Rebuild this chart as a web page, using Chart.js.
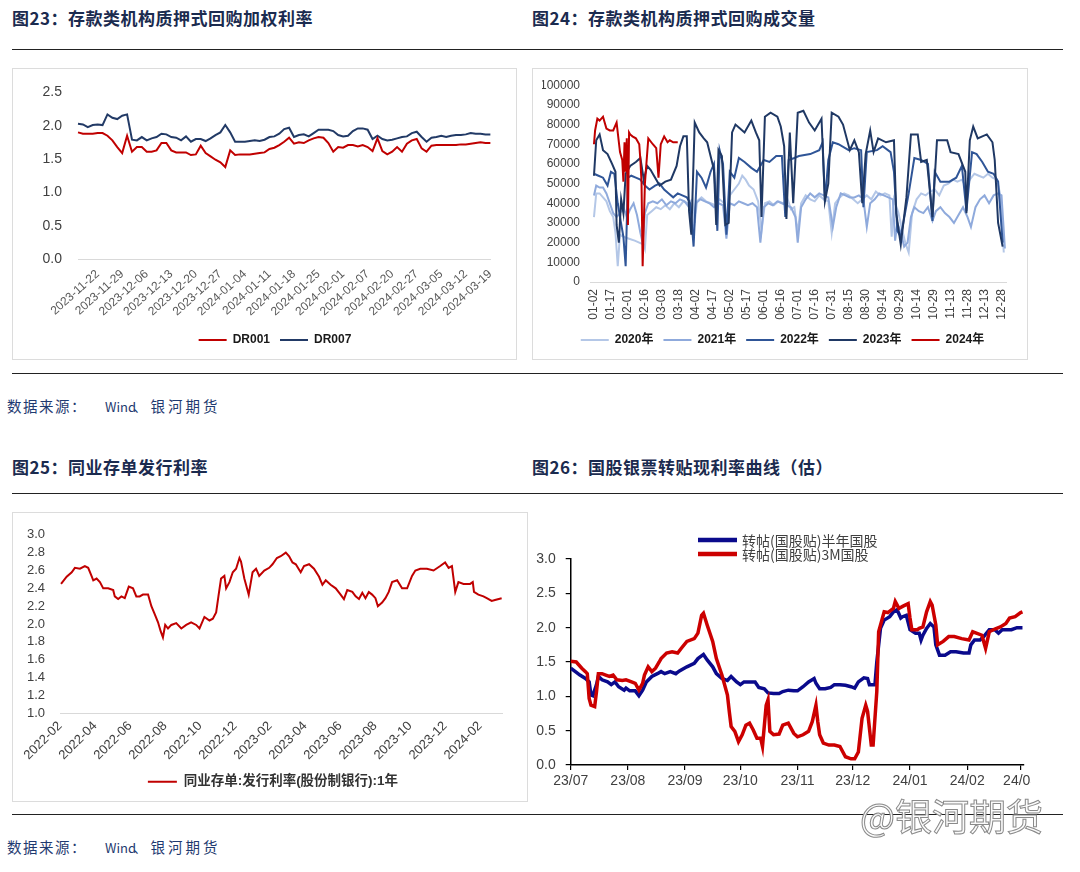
<!DOCTYPE html>
<html>
<head>
<meta charset="utf-8">
<script src="https://cdn.jsdelivr.net/npm/chart.js@4.4.1/dist/chart.umd.min.js"></script>
<style>
  html, body { margin: 0; padding: 0; background: #ffffff; }
  body { position: relative; width: 1080px; height: 872px; overflow: hidden; font-family: "Noto Sans CJK SC", sans-serif; }
  .t { position: absolute; font-size: 17px; font-weight: bold; color: #1b2b4f; letter-spacing: 0.5px; white-space: nowrap; line-height: 1; }
  .rule { position: absolute; left: 12px; width: 1051px; height: 0; border-top: 1.5px solid #222; }
  .box { position: absolute; border: 1px solid #dcdcdc; box-sizing: border-box; }
  .src { position: absolute; font-size: 14.5px; color: #1f3a70; white-space: nowrap; line-height: 1; }
  canvas { position: absolute; display: block; }
  .wm { position: absolute; left: 860px; top: 797px; font-size: 37px; line-height: 1; color: rgba(250,250,250,0.92); -webkit-text-stroke: 1px #8a8a8a; white-space: nowrap; }
</style>
</head>
<body>
<div class="t" style="left:12px;top:9px">图23：存款类机构质押式回购加权利率</div>
<div class="t" style="left:532px;top:9px">图24：存款类机构质押式回购成交量</div>
<div class="rule" style="top:49px"></div>

<div class="box" style="left:12px;top:68px;width:505px;height:292px"></div>
<canvas id="c1" width="466" height="292" style="left:42px;top:68px"></canvas>
<div class="box" style="left:532px;top:68px;width:496px;height:292px"></div>
<canvas id="c2" width="481" height="292" style="left:542px;top:68px"></canvas>

<div class="rule" style="top:373px"></div>
<div class="src" style="left:7px;top:399px;letter-spacing:1.5px">数据来源：</div>
<div class="src" style="left:105px;top:400px;font-size:13px">Wind</div>
<div class="src" style="left:133px;top:399px;letter-spacing:3px">、银河期货</div>

<div class="t" style="left:12px;top:458px">图25：同业存单发行利率</div>
<div class="t" style="left:532px;top:458px">图26：国股银票转贴现利率曲线（估）</div>
<div class="rule" style="top:493px"></div>

<div class="box" style="left:12px;top:512px;width:516px;height:290px"></div>
<canvas id="c3" width="506" height="290" style="left:20px;top:512px"></canvas>
<div style="position:absolute;left:530px;top:515px;width:501px;height:285px;overflow:hidden">
  <canvas id="c4" width="550" height="285" style="left:0;top:0"></canvas>
</div>

<div class="rule" style="top:814px"></div>
<div class="wm">@银河期货</div>
<div class="src" style="left:7px;top:840px;letter-spacing:1.5px">数据来源：</div>
<div class="src" style="left:105px;top:841px;font-size:13px">Wind</div>
<div class="src" style="left:133px;top:840px;letter-spacing:3px">、银河期货</div>

<script>
// ---------------- 图23 data ----------------
const drDates = ['2023-11-16','2023-11-17','2023-11-20','2023-11-21','2023-11-22','2023-11-23','2023-11-24','2023-11-27','2023-11-28','2023-11-29','2023-11-30',
 '2023-12-01','2023-12-04','2023-12-05','2023-12-06','2023-12-07','2023-12-08','2023-12-11','2023-12-12','2023-12-13','2023-12-14','2023-12-15','2023-12-18','2023-12-19','2023-12-20','2023-12-21','2023-12-22','2023-12-25','2023-12-26','2023-12-27','2023-12-28','2023-12-29',
 '2024-01-02','2024-01-03','2024-01-04','2024-01-05','2024-01-08','2024-01-09','2024-01-10','2024-01-11','2024-01-12','2024-01-15','2024-01-16','2024-01-17','2024-01-18','2024-01-19','2024-01-22','2024-01-23','2024-01-24','2024-01-25','2024-01-26','2024-01-29','2024-01-30','2024-01-31',
 '2024-02-01','2024-02-02','2024-02-04','2024-02-05','2024-02-06','2024-02-07','2024-02-08','2024-02-09','2024-02-18','2024-02-19','2024-02-20','2024-02-21','2024-02-22','2024-02-23','2024-02-26','2024-02-27','2024-02-28','2024-02-29',
 '2024-03-01','2024-03-04','2024-03-05','2024-03-06','2024-03-07','2024-03-08','2024-03-11','2024-03-12','2024-03-13','2024-03-14','2024-03-15','2024-03-18','2024-03-19'];
const dr001 = [1.90,1.88,1.88,1.88,1.89, 1.89,1.85,1.78,1.68,1.59, 1.85,1.61,1.68,1.68,1.61, 1.61,1.63,1.74,1.74,1.63,
 1.60,1.60,1.60,1.56,1.57, 1.70,1.59,1.54,1.49,1.45, 1.38,1.63,1.56,1.57,1.57, 1.57,1.58,1.59,1.60,1.65,
 1.67,1.71,1.76,1.82,1.73, 1.75,1.74,1.78,1.81,1.83, 1.82,1.74,1.61,1.68,1.67, 1.71,1.71,1.69,1.71,1.68,
 1.62,1.81,1.62,1.57,1.61, 1.68,1.61,1.73,1.78,1.80, 1.66,1.61,1.70,1.71,1.71, 1.71,1.71,1.71,1.72,1.72,
 1.73,1.74,1.75,1.74,1.74];
const dr007 = [2.03,2.02,1.98,2.01,2.02, 2.01,2.17,2.12,2.10,2.15, 2.17,1.79,1.78,1.83,1.78, 1.81,1.83,1.88,1.87,1.83,
 1.82,1.78,1.84,1.76,1.80, 1.80,1.77,1.81,1.86,1.90, 2.01,1.90,1.76,1.76,1.76, 1.77,1.78,1.77,1.79,1.83,
 1.84,1.88,1.95,1.97,1.83, 1.86,1.87,1.84,1.89,1.94, 1.94,1.94,1.92,1.86,1.84, 1.85,1.92,1.96,1.96,1.94,
 1.80,1.85,1.80,1.78,1.79, 1.81,1.83,1.84,1.89,1.91, 1.83,1.76,1.82,1.83,1.85, 1.83,1.85,1.86,1.86,1.87,
 1.89,1.88,1.88,1.87,1.87];

// ---------------- 图24 data (day of year; values in thousands) ----------------
const tickDays2 = [1,16,31,46,61,76,91,106,121,136,151,166,181,196,211,226,241,256,271,286,301,316,331,346,361];
const tickLabels2 = ['01-02','01-17','02-01','02-16','03-03','03-18','04-02','04-17','05-02','05-17','06-01','06-16','07-01','07-16','07-31','08-15','08-30','09-14','09-29','10-14','10-29','11-13','11-28','12-13','12-28'];
const d2020 = [1,3,6,9,12,15,18,20,22,24,27,32,37,41,45,46,48,52,56,60,64,68,72,76,80,84,88,90,92,96,100,104,108,112,116,118,121,125,129,132,135,138,142,146,149,152,156,160,164,168,172,175,178,181,184,188,192,196,200,204,208,211,214,218,222,226,230,234,238,242,246,250,254,258,262,264,266,270,273,276,279,282,286,290,294,298,302,306,310,314,318,322,326,330,333,337,341,345,349,353,357,360,363];
const v2020 = [33,45,45,43,41,36,33,25,8,24,23,22,21,20,19,17,34,36,38,37,39,37,40,38,41,40,42,30,41,43,41,40,39,42,40,28,44,47,50,54,52,49,47,41,26,40,41,39,41,40,42,37,38,25,40,44,42,41,44,42,41,25,40,43,45,44,42,40,42,44,42,46,44,45,44,23,42,35,27,20,15,35,42,45,44,46,47,44,49,50,52,51,52,48,52,55,54,53,55,53,52,44,15];
const d2021 = [1,3,6,9,12,15,18,21,24,27,30,33,36,39,42,44,46,49,53,57,61,65,69,73,77,81,85,89,91,95,99,103,107,111,115,118,121,125,129,133,137,141,145,148,151,155,159,163,167,171,175,179,181,184,188,192,196,200,204,208,212,215,219,223,227,231,235,239,242,245,249,253,257,261,265,267,269,272,275,278,281,284,288,292,296,300,303,307,311,315,319,323,327,331,334,338,342,346,350,354,358,361,364];
const v2021 = [44,49,48,48,45,40,35,33,35,38,33,37,40,34,25,20,35,40,41,40,42,39,41,40,42,41,38,25,40,42,41,40,38,40,39,22,40,39,41,40,39,40,38,20,38,40,39,41,40,39,38,33,20,38,42,45,43,45,44,43,28,38,45,44,43,43,44,42,28,40,42,45,44,43,42,21,30,25,18,20,33,38,36,35,38,31,36,38,35,33,30,34,38,33,28,38,42,44,40,44,45,44,17];
const d2022 = [1,5,9,13,16,19,22,24,27,29,31,34,38,42,46,50,55,59,63,67,71,75,79,83,86,89,92,96,100,104,107,110,112,115,118,121,125,129,134,140,145,151,156,162,167,170,173,178,182,192,200,203,205,208,212,217,226,231,237,239,242,251,256,263,266,269,272,279,284,290,296,300,302,307,315,321,326,330,335,339,344,349,354,358,362];
const v2022 = [55,54,53,49,56,55,40,33,23,8,53,54,53,52,49,47,49,50,47,45,43,45,44,43,40,18,56,53,48,56,60,26,67,60,24,56,53,63,61,58,56,62,61,64,64,33,62,63,64,65,67,71,41,62,71,70,67,68,67,38,66,67,69,66,56,26,23,45,63,62,60,31,56,51,51,53,59,36,66,65,61,56,55,51,20];
const d2023 = [1,3,6,9,13,17,20,21,23,25,27,29,33,38,42,45,48,51,54,59,64,69,74,77,80,83,85,87,90,94,98,101,104,107,109,111,114,117,120,123,126,130,134,140,144,147,149,152,157,163,166,169,171,174,177,181,186,191,196,202,205,208,211,217,221,227,231,235,238,241,245,248,252,259,266,268,272,277,281,287,290,295,300,304,309,313,316,323,329,330,333,336,340,348,353,355,358,362];
const v2023 = [54,72,75,67,65,60,56,29,20,42,35,55,59,61,63,52,59,57,54,49,51,52,59,69,74,74,36,24,81,76,73,71,64,57,29,67,64,29,30,76,80,78,76,82,76,72,33,84,86,84,79,69,32,76,40,86,87,81,77,83,41,50,86,84,80,67,72,66,40,65,77,66,73,71,72,35,19,43,75,75,61,62,33,72,72,72,66,65,56,35,72,79,73,75,71,62,30,18];
const d2024 = [1,2,4,6,9,12,15,18,21,24,26,27,28,29,30,31,32,33,35,38,41,42,43,44,46,49,53,56,58,60,63,66,68,71,75];
const v2024 = [70,77,83,82,84,78,77,77,81,66,62,51,71,56,73,29,76,75,74,73,70,62,51,8,50,73,70,68,53,70,74,71,72,71,71];

// ---------------- 图25 data (months since 2022-02) ----------------
const xLabels3 = ['2022-02','2022-04','2022-06','2022-08','2022-10','2022-12','2023-02','2023-04','2023-06','2023-08','2023-10','2023-12','2024-02'];
const tickMonths3 = [0,2,4,6,8,10,12,14,16,18,20,22,24];
const cdT = [0.06,0.38,0.67,0.85,1.14,1.42,1.61,1.80,1.90,2.09,2.28,2.47,2.75,3.04,3.13,3.32,3.51,3.70,3.93,4.17,
 4.36,4.55,4.74,5.03,5.22,5.41,5.60,5.75,5.88,6.01,6.17,6.36,6.64,6.93,7.21,7.49,7.78,7.97,8.25,8.54,
 8.73,8.92,9.05,9.20,9.39,9.49,9.68,9.87,10.06,10.25,10.34,10.53,10.78,11.00,11.20,11.38,11.67,11.95,12.14,12.39,
 12.61,12.90,13.09,13.28,13.47,13.75,13.94,14.23,14.51,14.80,14.99,15.18,15.46,15.75,16.03,16.22,16.41,16.70,16.89,17.08,
 17.27,17.45,17.64,17.83,18.02,18.16,18.40,18.59,18.78,18.97,19.26,19.54,19.83,20.11,20.30,20.58,20.96,21.34,21.72,22.00,
 22.20,22.39,22.58,22.76,23.05,23.43,23.58,23.65,23.90,24.19,24.38,24.66,24.85,25.23];
const cdRate = [2.45,2.53,2.58,2.63,2.62,2.65,2.63,2.54,2.49,2.51,2.47,2.40,2.40,2.38,2.31,2.28,2.31,2.29,2.42,2.40,
 2.31,2.31,2.33,2.33,2.20,2.11,2.02,1.92,1.85,1.99,1.95,1.99,2.01,1.95,1.99,2.02,1.99,1.95,2.08,2.04,
 2.06,2.13,2.31,2.51,2.54,2.40,2.47,2.58,2.62,2.74,2.70,2.51,2.33,2.58,2.62,2.54,2.60,2.63,2.67,2.74,
 2.76,2.80,2.76,2.69,2.67,2.58,2.65,2.67,2.62,2.53,2.44,2.49,2.44,2.40,2.33,2.28,2.38,2.36,2.31,2.28,
 2.35,2.29,2.36,2.33,2.29,2.20,2.24,2.29,2.36,2.47,2.49,2.40,2.40,2.54,2.60,2.62,2.62,2.60,2.65,2.69,
 2.63,2.65,2.36,2.47,2.45,2.45,2.47,2.36,2.33,2.31,2.29,2.26,2.27,2.29];

// ---------------- 图26 data (days since 2023-07-01) ----------------
const monthDays4 = [0,31,62,92,123,153,184,215,244];
const monthLabels4 = ['23/07','23/08','23/09','23/10','23/11','23/12','24/01','24/02','24/03'];
const halfDays = [0,2,5,8,10,11,12,14,15,17,20,22,24,26,29,30,32,35,37,39,41,44,47,49,51,54,57,59,63,67,69,72,74,77,79,82,85,87,90,92,94,97,100,102,105,107,110,113,115,118,121,123,126,129,132,133,135,138,141,143,146,149,152,154,156,159,161,162,165,166,168,170,173,175,177,179,180,182,184,187,189,190,191,193,195,197,198,200,203,206,209,213,216,217,219,222,224,227,230,232,234,236,239,242,245];
const halfRate = [1.41,1.37,1.31,1.26,1.21,1.02,1.01,1.17,1.29,1.24,1.21,1.17,1.21,1.14,1.09,1.12,1.08,1.08,1.01,1.09,1.21,1.29,1.33,1.36,1.33,1.36,1.33,1.37,1.43,1.48,1.55,1.61,1.53,1.43,1.33,1.26,1.23,1.29,1.21,1.17,1.21,1.21,1.21,1.13,1.11,1.05,1.04,1.04,1.07,1.09,1.08,1.08,1.14,1.21,1.26,1.19,1.11,1.11,1.13,1.17,1.17,1.16,1.14,1.12,1.21,1.27,1.26,1.17,1.17,1.50,1.99,2.11,2.16,2.23,2.26,2.14,2.16,2.18,1.97,1.92,1.92,1.82,1.89,1.99,2.06,2.01,1.75,1.60,1.60,1.65,1.65,1.63,1.63,1.75,1.82,1.82,1.87,1.97,1.97,1.92,1.97,1.97,1.97,2.00,2.00];
const m3Days = [0,3,6,8,9,10,11,13,14,15,17,19,21,23,25,28,30,33,35,37,39,40,42,44,46,48,49,52,55,58,60,63,67,69,71,72,74,77,79,82,85,86,87,89,91,93,95,97,99,101,103,104,106,107,108,110,113,115,118,121,123,126,129,131,133,134,135,137,140,143,146,149,152,154,156,158,160,161,163,164,166,167,170,172,175,176,178,180,183,184,185,188,189,191,193,195,196,198,199,202,205,208,212,216,218,220,223,225,227,230,233,236,238,241,244,245];
const m3Rate = [1.51,1.50,1.41,1.36,1.33,0.97,0.87,0.85,1.07,1.33,1.33,1.31,1.29,1.31,1.24,1.23,1.24,1.21,1.19,1.09,1.19,1.31,1.43,1.36,1.41,1.50,1.55,1.63,1.65,1.63,1.70,1.80,1.84,1.92,2.18,2.21,2.04,1.80,1.55,1.31,1.02,0.78,0.56,0.49,0.34,0.44,0.58,0.61,0.51,0.39,0.39,0.27,0.87,0.95,0.49,0.44,0.45,0.58,0.61,0.46,0.41,0.44,0.49,0.63,0.87,0.63,0.44,0.32,0.29,0.29,0.27,0.12,0.09,0.09,0.19,0.68,0.87,0.78,0.29,0.29,1.07,1.94,2.23,2.22,2.28,2.38,2.28,2.31,2.35,2.14,1.97,1.97,1.99,2.01,2.23,2.38,2.33,2.04,1.75,1.80,1.87,1.87,1.84,1.82,1.94,1.92,1.89,1.70,1.94,1.98,2.01,2.06,2.14,2.16,2.22,2.23];

// ---------------- helpers ----------------
Chart.defaults.font.family = '"Liberation Sans", Arial, "Noto Sans CJK SC", sans-serif';
Chart.defaults.animation = false;
const pts = (xs, ys, k) => xs.map((x, i) => ({ x: x, y: ys[i] * (k || 1) }));
const lineDs = (label, data, color, width, order) => ({ label, data, borderColor: color, backgroundColor: color, borderWidth: width, pointRadius: 0, tension: 0, order: order || 0, yAxisID: 'y' });
// invisible right-hand spacer axis (keeps legend centred like the original)
const spacer = w => ({ position: 'right', display: true, grid: { display: false, drawTicks: false }, border: { display: false }, ticks: { display: false }, afterFit: s => { s.width = w; } });

// ---------------- Chart 23 ----------------
new Chart(document.getElementById('c1'), {
  type: 'line',
  data: { labels: drDates, datasets: [ lineDs('DR001', dr001, '#c00000', 2, 0), lineDs('DR007', dr007, '#223a66', 2, 1) ] },
  options: {
    responsive: false, animation: false,
    layout: { padding: { left: 0, right: 0, top: 14, bottom: 4 } },
    plugins: {
      legend: { position: 'bottom', labels: { usePointStyle: true, pointStyle: 'line', pointStyleWidth: 28, padding: 10, color: '#1a1a1a', font: { size: 12, weight: 'bold' }, sort: (a, b) => a.datasetIndex - b.datasetIndex } },
      tooltip: { enabled: false }
    },
    scales: {
      x: { grid: { display: false, drawTicks: false }, border: { display: true, color: '#d9d9d9' },
           ticks: { autoSkip: false, minRotation: 42, maxRotation: 42, padding: 8, color: '#595959', font: { size: 12 },
                    callback: (v, i) => ((i - 4) % 5 === 0 ? drDates[i] : null) },
           afterFit: s => { s.height = 65; } },
      y: { min: 0, max: 2.5, grid: { display: false, drawTicks: false }, border: { display: false },
           ticks: { autoSkip: false, stepSize: 0.5, padding: 16, color: '#404040', font: { size: 14 }, callback: v => Number(v).toFixed(1) },
           afterFit: s => { s.width = 36; } },
      y2: spacer(8)
    }
  }
});

// ---------------- Chart 24 ----------------
new Chart(document.getElementById('c2'), {
  type: 'line',
  data: { datasets: [
    lineDs('2020年', pts(d2020, v2020, 1000), '#b4c7e7', 2, 4),
    lineDs('2021年', pts(d2021, v2021, 1000), '#8faadc', 2, 3),
    lineDs('2022年', pts(d2022, v2022, 1000), '#2f5597', 2, 2),
    lineDs('2023年', pts(d2023, v2023, 1000), '#1f3864', 2, 1),
    lineDs('2024年', pts(d2024, v2024, 1000), '#c00000', 2, 0)
  ] },
  options: {
    responsive: false, animation: false,
    layout: { padding: { left: 0, right: 0, top: 15, bottom: 4 } },
    plugins: {
      legend: { position: 'bottom', labels: { usePointStyle: true, pointStyle: 'line', pointStyleWidth: 28, padding: 10, color: '#1a1a1a', font: { size: 12, weight: 'bold' }, sort: (a, b) => a.datasetIndex - b.datasetIndex } },
      tooltip: { enabled: false }
    },
    scales: {
      x: { type: 'linear', min: -2.5, max: 365, grid: { display: false, drawTicks: false }, border: { display: true, color: '#d9d9d9' },
           afterBuildTicks: s => { s.ticks = tickDays2.map(v => ({ value: v })); },
           ticks: { autoSkip: false, minRotation: 90, maxRotation: 90, padding: 7, color: '#404040', font: { size: 12 },
                    callback: v => tickLabels2[tickDays2.indexOf(v)] },
           afterFit: s => { s.height = 42; } },
      y: { min: 0, max: 100000, grid: { display: false, drawTicks: false }, border: { display: false },
           ticks: { autoSkip: false, stepSize: 10000, padding: 10, color: '#404040', font: { size: 12 }, callback: v => String(v) },
           afterFit: s => { s.width = 48; } },
      y2: spacer(8)
    }
  }
});

// ---------------- Chart 25 ----------------
new Chart(document.getElementById('c3'), {
  type: 'line',
  data: { datasets: [ lineDs('同业存单:发行利率(股份制银行):1年', pts(cdT, cdRate), '#c00000', 2, 0) ] },
  options: {
    responsive: false, animation: false,
    layout: { padding: { left: 0, right: 0, top: 15.7, bottom: 3.5 } },
    plugins: {
      legend: { position: 'bottom', labels: { usePointStyle: true, pointStyle: 'line', pointStyleWidth: 29, padding: 10, color: '#333333', font: { size: 13.5, weight: 'bold' } } },
      tooltip: { enabled: false }
    },
    scales: {
      x: { type: 'linear', min: 0, max: 25.25, grid: { display: false, drawTicks: false }, border: { display: true, color: '#d9d9d9' },
           afterBuildTicks: s => { s.ticks = tickMonths3.map(v => ({ value: v })); },
           ticks: { autoSkip: false, minRotation: 45, maxRotation: 45, padding: 5, color: '#404040', font: { size: 13 },
                    callback: v => xLabels3[tickMonths3.indexOf(v)] },
           afterFit: s => { s.height = 51.7; } },
      y: { min: 1.0, max: 3.0, grid: { display: false, drawTicks: false }, border: { display: false },
           ticks: { autoSkip: false, stepSize: 0.2, padding: 15, color: '#404040', font: { size: 13 }, callback: v => Number(v).toFixed(1) },
           afterFit: s => { s.width = 40; } },
      y2: spacer(24)
    }
  }
});

// ---------------- Chart 26 ----------------
const stackedLegend = {
  id: 'stackedLegend',
  afterDraw(chart) {
    const ctx = chart.ctx;
    chart.data.datasets.forEach((ds, i) => {
      const y = 25 + i * 14;
      ctx.save();
      ctx.strokeStyle = ds.borderColor;
      ctx.lineWidth = 4.5;
      ctx.beginPath(); ctx.moveTo(168, y); ctx.lineTo(207, y); ctx.stroke();
      ctx.fillStyle = '#404040';
      ctx.font = '14px "Noto Sans CJK SC", sans-serif';
      ctx.textBaseline = 'middle';
      ctx.fillText(ds.label, 212, y + 1);
      ctx.restore();
    });
  }
};
new Chart(document.getElementById('c4'), {
  type: 'line',
  data: { datasets: [
    lineDs('转帖(国股贴)半年国股', pts(halfDays, halfRate), '#0a0a8c', 3.5, 1),
    lineDs('转帖(国股贴)3M国股', pts(m3Days, m3Rate), '#cc0000', 3.5, 0)
  ] },
  plugins: [stackedLegend],
  options: {
    responsive: false, animation: false,
    layout: { padding: { left: 0, right: 56.6, top: 44, bottom: 0 } },
    plugins: { legend: { display: false }, tooltip: { enabled: false } },
    scales: {
      x: { type: 'linear', min: 0, max: 245.5,
           grid: { display: true, drawOnChartArea: false, drawTicks: true, tickLength: 5, color: '#000000', lineWidth: 1.2 },
           border: { display: true, color: '#000000', width: 1.5 },
           afterBuildTicks: s => { s.ticks = monthDays4.map(v => ({ value: v })); },
           ticks: { autoSkip: false, maxRotation: 0, padding: 3, color: '#404040', font: { size: 14 },
                    callback: v => monthLabels4[monthDays4.indexOf(v)] },
           afterFit: s => { s.height = 35; } },
      y: { min: 0, max: 3.0,
           grid: { display: true, drawOnChartArea: false, drawTicks: true, tickLength: 5, color: '#000000', lineWidth: 1.2 },
           border: { display: true, color: '#000000', width: 1.5 },
           ticks: { autoSkip: false, stepSize: 0.5, padding: 10, color: '#404040', font: { size: 14 }, callback: v => Number(v).toFixed(1) },
           afterFit: s => { s.width = 40.7; } }
    }
  }
});
</script>
</body>
</html>
